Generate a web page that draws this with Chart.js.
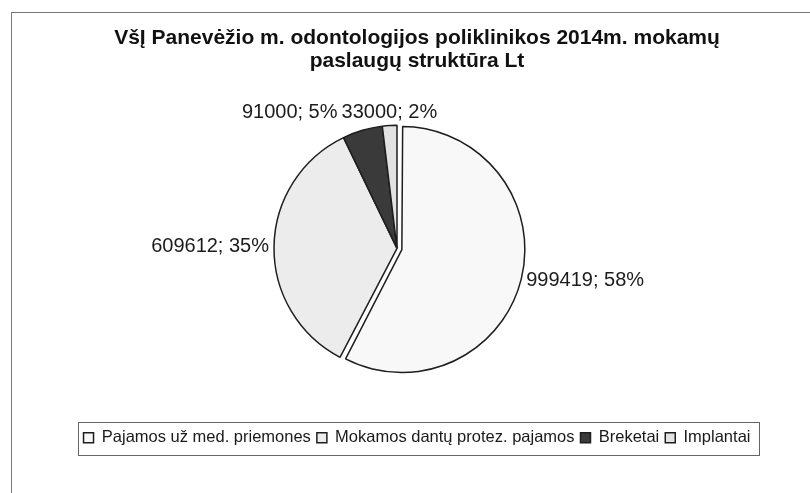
<!DOCTYPE html>
<html>
<head>
<meta charset="utf-8">
<script src="https://cdn.jsdelivr.net/npm/chart.js@4.4.1/dist/chart.umd.min.js"></script>
<style>
html,body{margin:0;padding:0;background:#fff;}
#wrap{position:relative;width:810px;height:493px;overflow:hidden;}
#frame{position:absolute;left:11px;top:12px;width:900px;height:600px;border:1px solid #777;}
canvas{position:absolute;left:0;top:0;}
</style>
</head>
<body>
<div id="wrap">
    <div id="frame"></div>
    <canvas id="chart" width="810" height="493"></canvas>
</div>
<script>

// ------------------------------
// DATA
// ------------------------------

const titleLines = ["VšĮ Panevėžio m. odontologijos poliklinikos 2014m. mokamų", "paslaugų struktūra Lt"]
const categories = ["Pajamos už med. priemones", "Mokamos dantų protez. pajamos", "Breketai", "Implantai"]
const values = [999419, 609612, 91000, 33000]
const sliceColors = ["#f8f8f8", "#ececec", "#3a3a3a", "#e2e2e2"]

const FONT = "'Liberation Sans', Arial, sans-serif"

// ------------------------------
// EXPLODED SLICE KEEPS ITS RADIUS
// (v4 grows the arc by offset/4 as well as moving it)
// ------------------------------

const keepRadius = {
    id:"keepRadius",
    afterDatasetUpdate(chart, args){
        const meta = chart.getDatasetMeta(args.index)
        for(const arc of meta.data){
            const off = (arc.options.offset || 0) / 4
            if(off) arc.outerRadius -= off
        }
    }
}

// ------------------------------
// VALUE LABELS ("999419; 58%")
// ------------------------------

const sliceLabels = {
    id:"sliceLabels",
    afterDatasetsDraw(chart, args, opts){

        const ctx = chart.ctx
        const meta = chart.getDatasetMeta(0)
        const total = values.reduce((a,b)=>a+b,0)

        ctx.save()
        ctx.font = `20px ${FONT}`
        ctx.fillStyle = "#1c1c1c"

        const boxes = meta.data.map((arc,i)=>{

            const p = arc.getProps(["x","y","startAngle","endAngle","outerRadius"], true)
            const mid = (p.startAngle + p.endAngle) / 2
            const off = (arc.options.offset || 0) / 4
            const d = p.outerRadius + 2*off + opts.gap
            const cx = Math.cos(mid)
            const sy = Math.sin(mid)
            const x = p.x + cx*d
            const y = p.y + sy*d

            const text = `${values[i]}; ${Math.round(values[i]/total*100)}%`
            const w = ctx.measureText(text).width

            let left
            if(Math.abs(cx) < 0.2) left = x - w/2
            else if(cx > 0) left = x
            else left = x - w

            let cy = y
            if(Math.abs(sy) > Math.abs(cx)) cy = sy < 0 ? y - 11 : y + 11

            return {text, w, left, cy}
        })

        // keep neighbouring labels from overlapping
        for(let i = boxes.length-2; i >= 0; i--){
            const a = boxes[i], b = boxes[i+1]
            if(Math.abs(a.cy - b.cy) < 20 && a.left < b.left && a.left + a.w > b.left - 4){
                a.left = b.left - 4 - a.w
                const yy = (a.cy + b.cy) / 2
                a.cy = yy
                b.cy = yy
            }
        }

        ctx.textBaseline = "middle"
        ctx.textAlign = "left"
        boxes.forEach(b => ctx.fillText(b.text, b.left, b.cy))
        ctx.restore()
    }
}

// ------------------------------
// FRAME ROUND THE LEGEND
// ------------------------------

const legendFrame = {
    id:"legendFrame",
    afterDraw(chart){

        const hb = chart.legend.legendHitBoxes
        if(!hb || !hb.length) return

        const l = Math.min(...hb.map(h=>h.left)) - 6
        const r = Math.max(...hb.map(h=>h.left + h.width)) + 8
        const t = Math.min(...hb.map(h=>h.top)) - 8
        const b = Math.max(...hb.map(h=>h.top + h.height)) + 8

        const ctx = chart.ctx
        ctx.save()
        ctx.strokeStyle = "#666"
        ctx.lineWidth = 1
        ctx.strokeRect(Math.round(l)+0.5, Math.round(t)+0.5, Math.round(r-l), Math.round(b-t))
        ctx.restore()
    }
}

// ------------------------------
// EMPTY BOX ON THE RIGHT (pie sits left of the title centre)
// ------------------------------

const rightSpacer = {
    id:"rightSpacer",
    beforeInit(chart){
        Chart.layouts.addBox(chart, {
            position:"right",
            fullSize:false,
            weight:0,
            options:{},
            isHorizontal(){ return false },
            update(maxWidth, maxHeight){
                this.width = 40
                this.height = maxHeight
            },
            draw(){}
        })
    }
}

// ------------------------------
// CHART
// ------------------------------

const ctx = document.getElementById("chart").getContext("2d")

new Chart(ctx,{
    type:"pie",
    data:{
        labels:categories,
        datasets:[{
            data:values,
            backgroundColor:sliceColors,
            borderColor:"#1e1e1e",
            borderWidth:1.5,
            offset:[20,0,0,0],
            hoverOffset:0
        }]
    },
    options:{
        responsive:false,
        animation:false,
        events:[],
        radius:123,
        layout:{ padding:{ left:24, right:0, top:0, bottom:37 } },
        plugins:{
            title:{
                display:true,
                text:titleLines,
                color:"#111",
                font:{ family:FONT, size:21, weight:"bold", lineHeight:1.1 },
                padding:{ top:27, bottom:0 }
            },
            legend:{
                position:"bottom",
                labels:{
                    color:"#1a1a1a",
                    font:{ family:FONT, size:16.5 },
                    boxWidth:10,
                    boxHeight:10,
                    padding:6
                }
            },
            tooltip:{ enabled:false },
            sliceLabels:{ gap:5 }
        }
    },
    plugins:[rightSpacer, keepRadius, sliceLabels, legendFrame]
})

</script>
</body>
</html>
